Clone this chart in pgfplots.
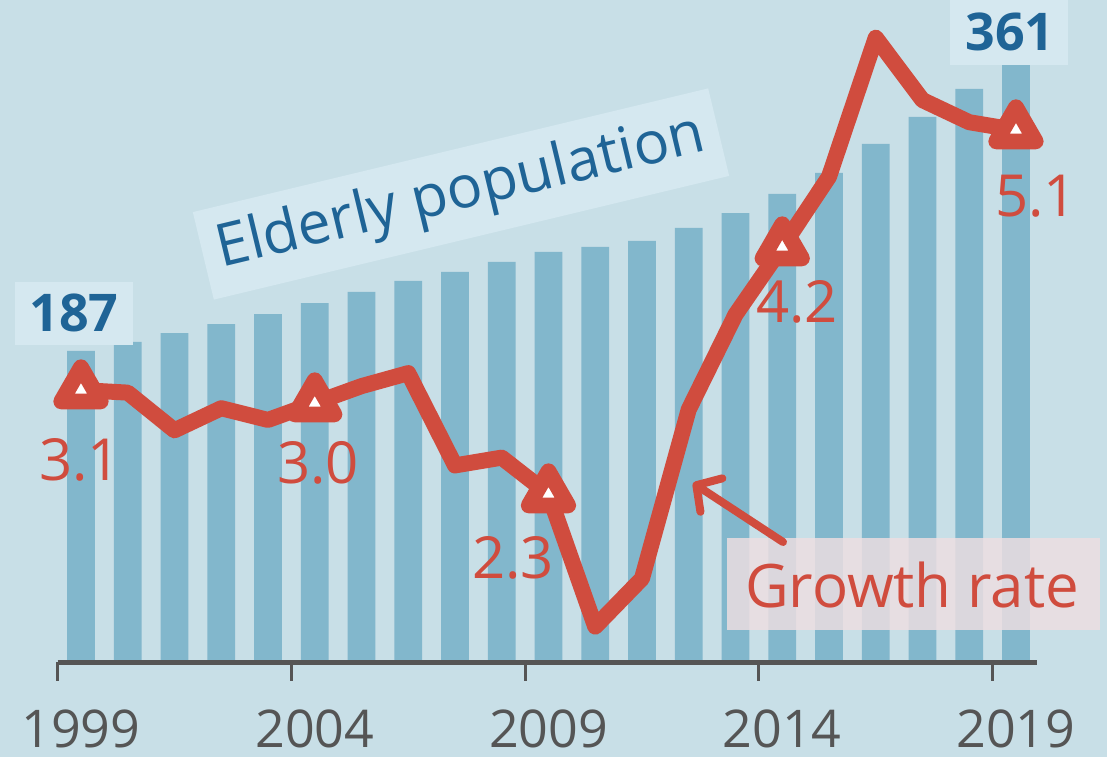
\documentclass[border=0pt]{standalone}
\usepackage{pgfplots}
\pgfplotsset{compat=1.18}
\usepackage{fontspec}
\setmainfont{Open Sans}
\usetikzlibrary{arrows.meta}
\definecolor{bg}{HTML}{C8DFE7}
\definecolor{barc}{HTML}{82B7CC}
\definecolor{gred}{HTML}{D04C3E}
\definecolor{blu}{HTML}{1F6496}
\definecolor{gry}{HTML}{555555}
\definecolor{lbox}{HTML}{D5E8F0}
\definecolor{pbox}{HTML}{EEDEE1}
\begin{document}
\begin{tikzpicture}
\path[fill=bg, use as bounding box] (0pt,0pt) rectangle (553.5pt,378.5pt);
% bars
\begin{axis}[at={(28.8pt,47.5pt)}, anchor=south west, scale only axis,
  width=489.7pt, height=331pt, xmin=-0.5, xmax=20.45, ymin=0, ymax=397.8,
  hide axis, clip=false]
\addplot[ybar, bar width=0.59, fill=barc, draw=none] coordinates {
(0,187) (1,192.3) (2,197.7) (3,203.1) (4,209.1) (5,215.7) (6,222.4) (7,229.0)
(8,234.4) (9,240.4) (10,246.4) (11,249.4) (12,253.0) (13,260.8) (14,269.8)
(15,281.3) (16,293.9) (17,311.3) (18,327.5) (19,344.4) (20,361)};
\draw[gry, line width=2.5pt] (axis cs:-0.5,0) -- (axis cs:20.45,0);
\draw[gry, line width=1.5pt] (axis cs:-0.5,0) -- (axis cs:-0.5,-11.5);
\draw[gry, line width=1.5pt] (axis cs:4.5,0) -- (axis cs:4.5,-11.5);
\draw[gry, line width=1.5pt] (axis cs:9.5,0) -- (axis cs:9.5,-11.5);
\draw[gry, line width=1.5pt] (axis cs:14.5,0) -- (axis cs:14.5,-11.5);
\draw[gry, line width=1.5pt] (axis cs:19.5,0) -- (axis cs:19.5,-11.5);
\node[gry, inner sep=0, font=\fontsize{26}{28}\selectfont] at (axis cs:0,0) [yshift=-33.5pt] {1999};
\node[gry, inner sep=0, font=\fontsize{26}{28}\selectfont] at (axis cs:5,0) [yshift=-33.5pt] {2004};
\node[gry, inner sep=0, font=\fontsize{26}{28}\selectfont] at (axis cs:10,0) [yshift=-33.5pt] {2009};
\node[gry, inner sep=0, font=\fontsize{26}{28}\selectfont] at (axis cs:15,0) [yshift=-33.5pt] {2014};
\node[gry, inner sep=0, font=\fontsize{26}{28}\selectfont] at (axis cs:20,0) [yshift=-33.5pt] {2019};
\end{axis}
% boxes
\begin{scope}[x=0.5pt,y=0.5pt]
\fill[lbox] (15,475) rectangle (133,412);
\fill[lbox] (950,757) rectangle (1068,692);
\node[fill=lbox, rotate=13.5, minimum width=265pt, minimum height=45pt, inner sep=0,
  text=blu, font=\fontsize{29.5}{31}\selectfont] at (461,563) {Elderly population};
\fill[pbox, fill opacity=0.83] (727,219) rectangle (1100,127);
\end{scope}
% growth line
\begin{axis}[at={(28.8pt,47.5pt)}, anchor=south west, scale only axis,
  width=489.7pt, height=331pt, xmin=-0.5, xmax=20.45, ymin=1.008, ymax=6.1,
  hide axis, clip=false]
\addplot[gred, line width=8pt, line join=round, line cap=round, mark=none] coordinates {
(0,3.1) (1,3.08) (2,2.79) (3,2.96) (4,2.87) (5,3.0) (6,3.13) (7,3.23) (8,2.52)
(9,2.58) (10,2.3) (11,1.28) (12,1.65) (13,2.95) (14,3.68) (15,4.2) (16,4.74)
(17,5.81) (18,5.33) (19,5.16) (20,5.1)};
\addplot[only marks, mark=triangle*, mark size=11.4pt,
  mark options={fill=white, draw=gred, line width=7.9pt, line join=round}] coordinates {
(0,3.1) (5,3.0) (10,2.3) (15,4.2) (20,5.1)};
\end{axis}
% labels
\begin{scope}[x=0.5pt,y=0.5pt]
\node[text=blu, inner sep=0, font=\bfseries\fontsize{26}{28}\selectfont] at (74,444) {187};
\node[text=blu, inner sep=0, font=\bfseries\fontsize{26}{28}\selectfont] at (1010,725) {361};
\node[text=gred, inner sep=0, font=\fontsize{29}{31}\selectfont] at (80,297) {3.1};
\node[text=gred, inner sep=0, font=\fontsize{29}{31}\selectfont] at (318,294) {3.0};
\node[text=gred, inner sep=0, font=\fontsize{29}{31}\selectfont] at (513,199) {2.3};
\node[text=gred, inner sep=0, font=\fontsize{29}{31}\selectfont] at (797,455) {4.2};
\node[text=gred, inner sep=0, font=\fontsize{29}{31}\selectfont] at (1036,561) {5.1};
\node[text=gred, inner sep=0, font=\fontsize{30}{32}\selectfont] at (912,172) {Growth rate};
\draw[gred, line width=4pt, line cap=round,
  -{Straight Barb[length=9pt, width=20pt, line cap=round, line join=round]}] (783,215) -- (693,274);
\end{scope}
\end{tikzpicture}
\end{document}
